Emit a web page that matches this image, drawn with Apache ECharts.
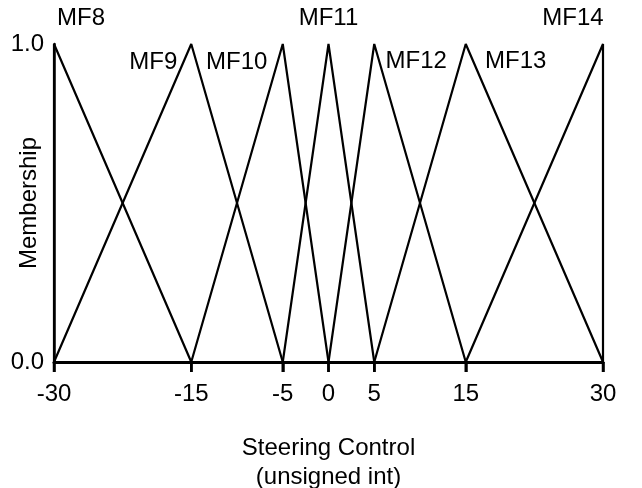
<!DOCTYPE html>
<html>
<head>
<meta charset="utf-8">
<script src="https://cdn.jsdelivr.net/npm/echarts@6/dist/echarts.min.js"></script>
<style>
html,body{margin:0;padding:0;background:#fff;}
#c{width:642px;height:488px;}
</style>
</head>
<body>
<div id="c"></div>
<script>
// Membership function names
var mfNames = ['MF8', 'MF9', 'MF10', 'MF11', 'MF12', 'MF13', 'MF14'];
// Each membership function as [x, membership] vertices
var mf8  = [[-30, 0], [-30, 1], [-15, 0]];
var mf9  = [[-30, 0], [-15, 1], [-5, 0]];
var mf10 = [[-15, 0], [-5, 1], [0, 0]];
var mf11 = [[-5, 0], [0, 1], [5, 0]];
var mf12 = [[0, 0], [5, 1], [15, 0]];
var mf13 = [[5, 0], [15, 1], [30, 0]];
var mf14 = [[15, 0], [30, 1], [30, 0]];
var mfData = [mf8, mf9, mf10, mf11, mf12, mf13, mf14];
// Peak (label anchor) of each function
var mfPeaks = [-30, -15, -5, 0, 5, 15, 30];
// Tick values
var xTicks = [-30, -15, -5, 0, 5, 15, 30];

// label offsets in pixels from peak (layout only)
var labelOffsets = [[27, -26], [-38, 18], [-46, 18], [0, -26], [42, 17], [50, 17], [-30, -26]];

var FONT = 'Liberation Sans, Arial, sans-serif';
var FS = 24;
var TICK_LEN = 10;

var chart = echarts.init(document.getElementById('c'), null, {renderer: 'canvas'});

var series = mfData.map(function (d, i) {
  return {
    name: mfNames[i],
    type: 'line',
    data: d,
    showSymbol: false,
    symbol: 'none',
    animation: false,
    lineStyle: {color: '#000', width: 2.2},
    z: 3
  };
});

chart.setOption({
  animation: false,
  backgroundColor: '#fff',
  grid: {left: 54, right: 39, top: 44, bottom: 126, containLabel: false, outerBoundsMode: 'none'},
  xAxis: {
    type: 'value',
    min: -30, max: 30,
    splitLine: {show: false},
    axisLine: {show: true, onZero: false, lineStyle: {color: '#000', width: 3}},
    axisTick: {show: true, customValues: xTicks, length: TICK_LEN, inside: false, lineStyle: {color: '#000', width: 2.5}},
    axisLabel: {customValues: xTicks, color: '#000', fontSize: FS, fontFamily: FONT, margin: 20},
    name: 'Steering Control\n(unsigned int)',
    nameLocation: 'middle',
    nameGap: 72,
    nameMoveOverlap: false,
    nameTextStyle: {color: '#000', fontSize: FS, fontFamily: FONT, lineHeight: 29}
  },
  yAxis: {
    type: 'value',
    min: 0, max: 1, interval: 1,
    splitLine: {show: false},
    axisLine: {show: true, onZero: false, lineStyle: {color: '#000', width: 2.5}},
    axisTick: {show: false},
    axisLabel: {color: '#000', fontSize: FS, fontFamily: FONT, margin: 10,
      formatter: function (v) { return v.toFixed(1); }},
    name: 'Membership',
    nameLocation: 'middle',
    nameGap: 13,
    nameMoveOverlap: false,
    nameTextStyle: {color: '#000', fontSize: FS, fontFamily: FONT}
  },
  series: series
});

var graphics = mfNames.map(function (n, i) {
  var p = chart.convertToPixel({gridIndex: 0}, [mfPeaks[i], 1]);
  return {
    type: 'text',
    x: p[0] + labelOffsets[i][0],
    y: p[1] + labelOffsets[i][1],
    style: {text: n, fill: '#000', font: FS + 'px ' + FONT, align: 'center', verticalAlign: 'middle'},
    z: 10
  };
});
xTicks.forEach(function (t) {
  var px = chart.convertToPixel({xAxisIndex: 0}, t);
  var py = chart.convertToPixel({yAxisIndex: 0}, 0);
  graphics.push({
    type: 'rect',
    shape: {x: px - 1.25, y: py, width: 2.5, height: TICK_LEN},
    style: {fill: '#000'},
    z: 100
  });
});
chart.setOption({graphic: {elements: graphics}});
</script>
</body>
</html>
